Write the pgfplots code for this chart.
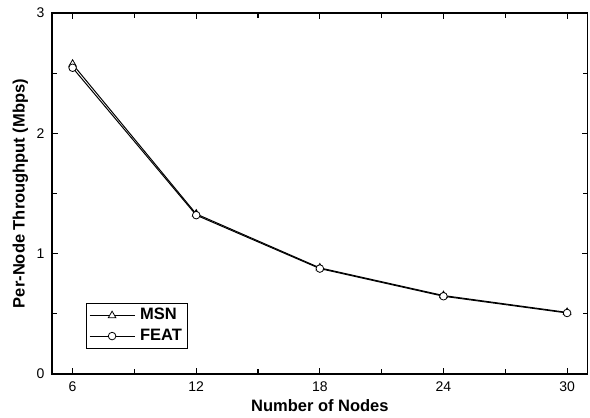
\documentclass[border=0pt]{standalone}
\usepackage{fontspec}
\setmainfont{Liberation Sans}
\usepackage{pgfplots}
\pgfplotsset{compat=1.18}
\begin{document}
\begin{tikzpicture}
\path[use as bounding box] (-52bp,-44bp) rectangle (538bp,374bp);
\begin{axis}[
  at={(0,0)}, anchor=south west,
  scale only axis,
  width=535.7bp, height=361bp,
  xmin=5, xmax=31, ymin=0, ymax=3,
  xtick={6,12,18,24,30},
  minor xtick={9,15,21,27},
  ytick={0,1,2,3},
  minor ytick={0.5,1.5,2.5},
  tick align=inside,
  xtick pos=both, ytick pos=both,
  xticklabel pos=lower, yticklabel pos=left,
  major tick length=6bp, minor tick length=5bp,
  axis line style={line width=1.2bp},
  every tick/.style={line width=1.2bp, black},
  /pgf/number format/assume math mode=true,
  ticklabel style={font=\fontsize{14bp}{16bp}\selectfont},
  xticklabel style={yshift=-4.5bp},
  yticklabel style={xshift=-4bp},
  xlabel={Number of Nodes},
  ylabel={Per-Node Throughput (Mbps)},
  label style={font=\fontsize{16.5bp}{19bp}\selectfont\bfseries},
  xlabel style={at={(axis description cs:0.5,-0.1044)}, anchor=base},
  ylabel style={at={(axis description cs:-0.0513,0.5)}, anchor=base},
  legend style={at={(axis description cs:0.0629,0.070)}, anchor=south west,
    draw=black, line width=0.8bp, inner xsep=3bp, inner ysep=2bp,
    column sep=3bp,
    font=\fontsize{16.5bp}{19bp}\selectfont\bfseries,
    nodes={text height=12bp, text depth=3.5bp, inner ysep=2.5bp, inner xsep=2bp}},
  legend cell align=left,
  legend image code/.code={%
    \draw[mark repeat=2,mark phase=2,#1] plot coordinates {(0bp,0bp) (22.5bp,0bp) (45bp,0bp)};},
]
\addplot[black, line width=1bp, mark=triangle*, mark size=4.4bp,
  mark options={fill=white, line width=0.8bp}]
  coordinates {(6,2.575) (12,1.33) (18,0.882) (24,0.652) (30,0.512)};
\addlegendentry{MSN}
\addplot[black, line width=1bp, mark=*, mark size=3.8bp,
  mark options={fill=white, line width=0.8bp}]
  coordinates {(6,2.545) (12,1.32) (18,0.876) (24,0.646) (30,0.507)};
\addlegendentry{FEAT}
\end{axis}
\end{tikzpicture}
\end{document}
